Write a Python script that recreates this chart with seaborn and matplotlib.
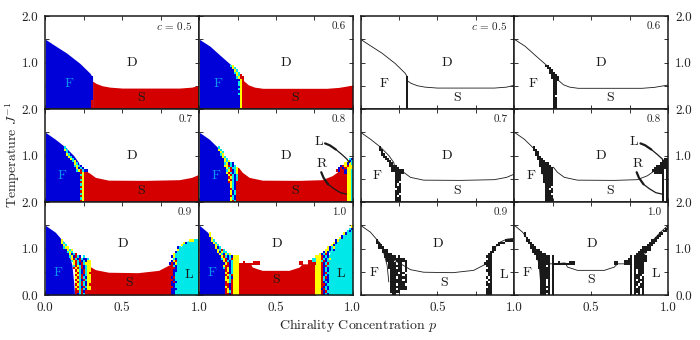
import matplotlib
matplotlib.use("Agg")
import matplotlib.pyplot as plt
import seaborn as sns
import pandas as pd

sns.set_theme(style="ticks")
plt.rcParams['font.family'] = ['cmr10', 'DejaVu Serif']
plt.rcParams['mathtext.fontset'] = 'cm'
plt.rcParams['axes.unicode_minus'] = False
plt.rcParams['axes.formatter.use_mathtext'] = True

BLUE, RED, CYAN, YELLOW = '#0000d8', '#d40000', '#00e8e8', '#ffff00'
CODE = {'b': BLUE, 'r': RED, 'c': CYAN, 'y': YELLOW}

concentrations = [0.5, 0.6, 0.7, 0.8, 0.9, 1.0]
c_labels = ['$c$ = 0.5', '0.6', '0.7', '0.8', '0.9', '1.0']

# phase boundaries (p, T)
F_P = {0.5: [0, .074, .14, .225, .29, .307, .307],
       0.6: [0, .07, .134, .22, .253, .262, .268],
       0.7: [0, .065, .13, .184, .216, .23, .23],
       0.8: [0, .065, .13, .162, .184, .205, .21],
       0.9: [0, .065, .13, .15, .173, .184, .19],
       1.0: [0, .054, .108, .14, .162, .17, .17]}
F_T = {0.5: [1.5, 1.34, 1.2, .98, .77, .68, 0],
       0.6: [1.5, 1.35, 1.16, .91, .73, .4, 0],
       0.7: [1.5, 1.35, 1.18, 1.0, .85, .64, 0],
       0.8: [1.5, 1.35, 1.14, .925, .64, .35, 0],
       0.9: [1.5, 1.35, 1.1, .925, .64, .28, 0],
       1.0: [1.5, 1.35, 1.1, .925, .64, .3, 0]}
S_P = {0.5: [.307, .33, .37, .42, .5, .6, .8, .87, .95, 1],
       0.6: [.27, .285, .32, .36, .415, .6, .83, .91, 1],
       0.7: [.23, .28, .325, .41, .65, .87, .95, 1],
       0.8: [.21, .255, .28, .325, .41, .65, .8, .866, .91, .96],
       0.9: [.19, .277, .325, .41, .6, .736, .8, .84],
       1.0: [.17, .255, .33, .346, .41, .585, .65, .67, .747, .76]}
S_T = {0.5: [.6, .55, .5, .47, .45, .45, .45, .45, .47, .51],
       0.6: [.62, .62, .52, .47, .445, .445, .445, .465, .515],
       0.7: [.64, .64, .53, .47, .465, .48, .53, .6],
       0.8: [.745, .745, .64, .53, .47, .465, .48, .566, .67, .7],
       0.9: [.8, .64, .545, .49, .48, .53, .64, .7],
       1.0: [.67, .67, .69, .6, .53, .53, .6, .67, .67, .67]}
L_P = {0.9: [.84, .84, .866, .91, .95, 1],
       1.0: [.833, .833, .866, .91, .95, 1]}
L_T = {0.9: [0, .82, 1.0, 1.14, 1.2, 1.22],
       1.0: [0, .78, 1.0, 1.21, 1.35, 1.5]}

# mixed-phase cells: zone = (first p, top T, rows top to bottom).
# letter = phase in the cell; upper case cells also show as black on the right-hand panels.
CELL_P, CELL_T = .0133, .05
ZONES_05 = [(.297, .70, ["B", "B", "B", "B", "B", "B", "B", "B", "B", "B",
                         "R", "R", "R", "R"])]
ZONES_06 = [(.20, .95, ["CY......", ".YC.....", "..YC....", "..CYC...", "...YCR..", "...CYRR.",
                        "....BYR.", "....CY..", "....CY..", "....BY..", "....CY..", "....BY..",
                        "....CY..", "....By..", "....BY..", "....BY..", "....BY..", "....BY..",
                        "....BY.."])]
ZONES_07 = [(.12, 1.2, ["C...........", "YC..........", ".C..........", ".YC.........",
                        "..YC........", "...YC.......", "....CY......", ".....YC.....",
                        ".....CYCB...", "......YBCB..", "......CYRCBB", "........RYRR",
                        "........CYR.", "........RYR.", "........CYR.", "........RYr.",
                        "........CyR.", "........RYR.", "........cYR.", "........RYR.",
                        "........CYr.", "........RyR.", "........CYR.", "........RYR."])]
ZONES_08 = [(.12, 1.2, ["C...........", "YC..........", ".YC.........", ".CY.........",
                        "..YC........", "..BYC.......", "...YCY......", "...CYBCB....",
                        "...YYRCBC...", "....YCRCCY..", "....CYRBCY..", "....YRCBCY..",
                        ".....YRCBC..", ".....RYCBC..", ".....YRCBC..", ".....RYCBR..",
                        "......YCBR..", "......YCBr..", "......RCbR..", "......YBCR..",
                        "......YBCr..", "......RCBR..", "......YCBR..", "......YRCR.."]),
            (.88, .95, [".......CBCB", "......YBCBC", ".....YBYCBC", "...BRYRYYCB",
                        "..BRBRYYYCB", ".RBRRBYyC..", "..RRRBYyC..", "......YyC", "......YyC",
                        "......YyC", "......YyC", "......YyC", "......YyC", "......YyC",
                        "......YyC", "......YyC", "......YyC", "......YyC", "......YyC"])]
ZONES_09 = [(.10, 1.20, ["Y...............", "YC..............", ".YC.............",
                         ".CYY............", "...YCY..........",
                         "...CYC..........", "....YBCR........", "....CYBRCB.C....",
                         ".....YRCBRCBBC..", ".....CYRCrBCBYY.", "......YRCBrCYyY.",
                         "......CRYCRBCyY.", "......RYRCrBCyY.", ".......RYCBRCyY.",
                         ".......YRCBrCYr.", ".......RYCRBCyY.", ".......YRCrCBYY.",
                         ".......RYCBRCyY.", ".......YRCRCBYY.", ".......RYCrCBYr.",
                         ".......YRCBRCYY.", ".......RYCrCBYY.", ".......RRCRBr...",
                         ".......rBCrcr..."]),
            (.79, 1.25, ["...............YY", "...........YYCC..", "........YBC......",
                         ".......YC........", ".....BC..........", ".....YC..........",
                         "....BC...........", "...YC............", "..BYC............",
                         "...CB............", "..BYR............", ".BRBY............",
                         "..RCB............", "...RB............", "..RBB............",
                         "..rBC", "..rBC", "..BrC", "..rBC", "..BrB", "..BBC", "..rBC",
                         "..BBB", "..BBC", "..BBC"])]
ZONES_10 = [(.06, 1.35, ["Y...............", "Y...............", ".Y..............",
                         ".YC.............", "..YC............", "...YC...........",
                         "...YBC..........", "....YCRC........", "....YBYCC.......",
                         ".....YCBYCY.....", "......YRCBCBYyY.", "......CYRBCRYyY.",
                         ".......YRCBCYyY.", ".......BYRBCYyY.", ".......YRRBcYyY.",
                         ".......CRYBCYyY.", "........RYBCYyY.", "........YRBCYyY.",
                         "........RYCRYyY.", "........YRCBYyY.", "........YYCrYyY.",
                         "........RYCrYyY.", "........RRBrYyY.", "........YRBRYyY.",
                         "........RYBrYyY.", "........RYCRYyY.", "........RRBrYyY."]),
            (.726, 1.5, ["....................Y", "...................CB",
                         "..................CB", "................YB",
                         "...............BC", "..............YB",
                         "............BYC", "...........YBC",
                         "..........YBC", "........YBCY",
                         ".......YYBCB", "......BYBC",
                         "....yBCRB", "..YyYRBCBC",
                         "..YyYRCBCY", ".CYyYCRBCC",
                         "..YyYRBCR.", "..YyYRBRC.", "..YyYRBCB.", "..YyYrBCB.", "..YyYrBRC.",
                         "..YyYRBCb.", "..YyYRCrB.", "..YyYrCBB.", "..YyYRBcB.", "..YyYRrBC.",
                         "..YyYrBCB.", "..YyYBRcB.", "..YyYRBrC.", "..YyYrBcB."]),
            (.26, .74, ["..R....RRR", "RRRRRRRRRR"]),
            (.65, .74, ["RR", "RR"]),
            (.71, .80, ["..CC", "RRCC", "RRRR"])]
ZONES = {0.5: ZONES_05, 0.6: ZONES_06, 0.7: ZONES_07, 0.8: ZONES_08, 0.9: ZONES_09, 1.0: ZONES_10}

# leader curves on the c = 0.8 panels
ARC_L_P = [.82, .85, .89, .93, .96, .98]
ARC_L_T = [1.26, 1.22, 1.13, 1.02, .93, .85]
ARC_R_P = [.795, .81, .84, .88, .92, .96]
ARC_R_T = [.64, .52, .38, .28, .2, .17]

# text positions per panel: (p, T)
D_POS = {0.5: (.563, 1.0), 0.6: (.563, 1.0), 0.7: (.563, 1.0), 0.8: (.563, 1.0), 0.9: (.506, 1.1), 1.0: (.506, 1.1)}
S_POS = {0.5: (.625, .23), 0.6: (.625, .23), 0.7: (.625, .24), 0.8: (.625, .24), 0.9: (.545, .25), 1.0: (.5, .33)}
F_POS = {0.5: (.156, .54), 0.6: (.125, .54), 0.7: (.108, .57), 0.8: (.108, .57), 0.9: (.086, .47), 1.0: (.086, .47)}
L_POS = {0.8: (.78, 1.3), 0.9: (.93, .44), 1.0: (.92, .45)}


def line(ax, xs, ys, lw=0.6):
    df = pd.DataFrame({'p': xs, 'T': ys})
    sns.lineplot(data=df, x='p', y='T', ax=ax, color='k', lw=lw, sort=False,
                 estimator=None, zorder=4, legend=False)


def draw_zone(ax, zone, colored):
    p_start, t_top, rows = zone
    for i, row in enumerate(rows):
        for j, k in enumerate(row):
            if k == '.' or (not colored and k.islower()):
                continue
            ax.bar(p_start + j * CELL_P, CELL_T, bottom=t_top - (i + 1) * CELL_T,
                   width=CELL_P, align='edge', lw=0, antialiased=False,
                   color=CODE[k.lower()] if colored else 'k', zorder=3)


def panel(ax, c, colored):
    fp, ft = F_P[c], F_T[c]
    sp, st = S_P[c], S_T[c]
    if colored:
        ax.fill_between(sp, 0, st, color=RED, lw=0)
        ax.fill_between(fp, 0, ft, color=BLUE, lw=0)
        if c in L_P:
            ax.fill_between(L_P[c], 0, L_T[c], color=CYAN, lw=0)
    else:
        line(ax, fp[:-1], ft[:-1])
        line(ax, sp, st)
        if c in L_P:
            line(ax, L_P[c][1:], L_T[c][1:])
    for zone in ZONES[c]:
        draw_zone(ax, zone, colored)
    if c == 0.8:
        for xs, ys in ((ARC_L_P, ARC_L_T), (ARC_R_P, ARC_R_T)):
            line(ax, xs[:3], ys[:3], lw=1.6)
            line(ax, xs[2:], ys[2:], lw=0.9)
    fs = 10
    ax.text(*D_POS[c], 'D', ha='center', va='center', fontsize=fs, color='k', zorder=6)
    ax.text(*S_POS[c], 'S', ha='center', va='center', fontsize=fs, color='k', zorder=6)
    ax.text(*F_POS[c], 'F', ha='center', va='center', fontsize=fs,
            color='#0a96f0' if colored else 'k', zorder=6)
    if c in L_POS:
        ax.text(*L_POS[c], 'L', ha='center', va='center', fontsize=fs, color='k', zorder=6)
    if c == 0.8:
        ax.text(.80, .82, 'R', ha='center', va='center', fontsize=fs, color='k', zorder=6)
    ax.text(.955, 1.78, c_labels[concentrations.index(c)], ha='right', va='center', fontsize=8, color='#222222')


W, H = 700, 340
X_EDGES = [(45.3, 199.3), (199.3, 352.7), (360.5, 514.3), (514.3, 668.2)]
Y_EDGES = [(16, 109), (109, 202), (202, 295)]

fig = plt.figure(figsize=(7, 3.4), dpi=100)
for block, colored in enumerate((True, False)):
    for col in range(2):
        for row in range(3):
            c = concentrations[row * 2 + col]
            x0, x1 = X_EDGES[block * 2 + col]
            y0, y1 = Y_EDGES[row]
            ax = fig.add_axes([x0 / W, 1 - y1 / H, (x1 - x0) / W, (y1 - y0) / H])
            panel(ax, c, colored)
            ax.set_xlim(0, 1)
            ax.set_ylim(0, 2)
            ax.set_xlabel('')
            ax.set_ylabel('')
            ax.set_xticks([0, .25, .5, .75, 1])
            ax.set_yticks([0, .5, 1, 1.5, 2])
            show_x = row == 2
            xl = ['', '', '0.5', '', '1.0']
            if block == 0 and col == 0:
                xl[0] = '0.0'
            ax.set_xticklabels(xl if show_x else [''] * 5)
            yl = ['0.0' if row == 2 else '', '', '1.0', '', '2.0']
            show_y_left = block == 0 and col == 0
            show_y_right = block == 1 and col == 1
            ax.set_yticklabels(yl if (show_y_left or show_y_right) else [''] * 5)
            ax.tick_params(axis='both', direction='in', top=True, right=True, length=3.2,
                           width=0.7, labelsize=9.5, labelcolor='#222222', color='#333333',
                           pad=5, left=True, bottom=True,
                           labelleft=show_y_left, labelright=show_y_right)
            for s in ax.spines.values():
                s.set_linewidth(1.1)
                s.set_color('k')
                s.set_zorder(8)

fig.text(13 / W, 1 - 155 / H, 'Temperature $J^{-1}$', rotation=90, ha='center', va='center',
         fontsize=10, color='#222222')
fig.text(358 / W, 1 - 326 / H, 'Chirality Concentration $p$', ha='center', va='center',
         fontsize=10, color='#222222')
fig.savefig('out.png', dpi=100)
